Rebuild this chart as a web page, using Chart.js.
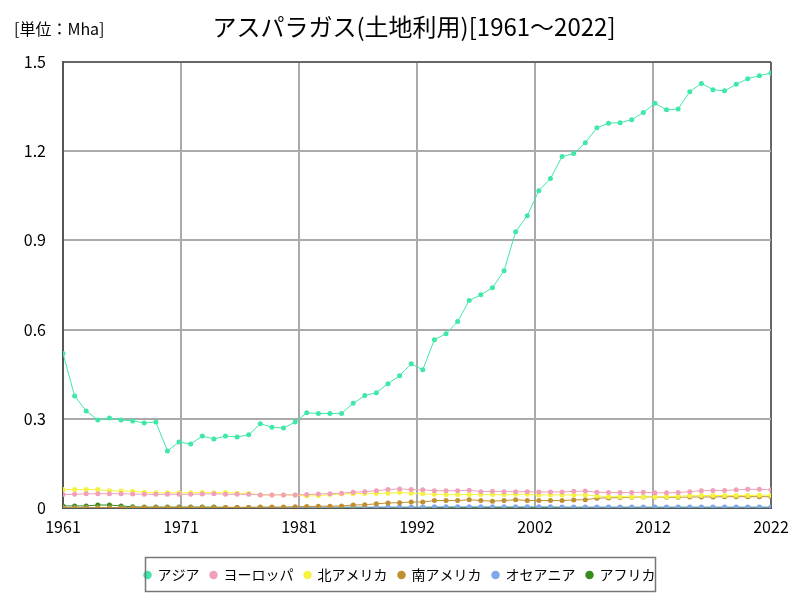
<!DOCTYPE html>
<html>
<head>
<meta charset="utf-8">
<script src="https://cdn.jsdelivr.net/npm/chart.js@4"></script>
<style>
  body { margin: 0; background: #fff; }
  #wrap { width: 800px; height: 600px; }
</style>
</head>
<body>
<div id="wrap"><canvas id="lineChart" width="800" height="600"></canvas></div>
<script>
	// years 1961..2022
	var years = [];
	for (var y = 1961; y <= 2022; y++) years.push(y);

	var xTickCount = 7;
	var yTicks = [0, 0.3, 0.6, 0.9, 1.2, 1.5];

	var asia = [0.52, 0.377, 0.326, 0.296, 0.303, 0.296, 0.293, 0.286, 0.289, 0.192,
		0.222, 0.215, 0.242, 0.232, 0.242, 0.239, 0.246, 0.283, 0.272, 0.269,
		0.289, 0.32, 0.318, 0.318, 0.318, 0.352, 0.378, 0.388, 0.418, 0.445,
		0.485, 0.465, 0.566, 0.586, 0.627, 0.698, 0.717, 0.741, 0.798, 0.929,
		0.983, 1.067, 1.108, 1.182, 1.192, 1.228, 1.279, 1.294, 1.296, 1.306,
		1.33, 1.361, 1.339, 1.342, 1.4, 1.428, 1.407, 1.403, 1.425, 1.444,
		1.454, 1.463];
	var europe = [0.045, 0.046, 0.048, 0.048, 0.048, 0.048, 0.047, 0.046, 0.046, 0.046,
		0.046, 0.046, 0.047, 0.048, 0.046, 0.046, 0.046, 0.044, 0.044, 0.044,
		0.044, 0.045, 0.047, 0.048, 0.05, 0.053, 0.055, 0.058, 0.062, 0.064,
		0.062, 0.061, 0.058, 0.058, 0.058, 0.06, 0.055, 0.056, 0.055, 0.055,
		0.055, 0.054, 0.054, 0.054, 0.056, 0.057, 0.053, 0.052, 0.052, 0.052,
		0.053, 0.051, 0.051, 0.052, 0.055, 0.058, 0.059, 0.059, 0.061, 0.063,
		0.063, 0.061];
	var northAmerica = [0.062, 0.062, 0.062, 0.062, 0.058, 0.057, 0.056, 0.053, 0.051, 0.051,
		0.051, 0.051, 0.052, 0.051, 0.052, 0.05, 0.049, 0.044, 0.044, 0.044,
		0.044, 0.04, 0.042, 0.045, 0.047, 0.048, 0.049, 0.049, 0.05, 0.052,
		0.05, 0.048, 0.046, 0.045, 0.045, 0.045, 0.045, 0.045, 0.045, 0.046,
		0.046, 0.044, 0.044, 0.044, 0.044, 0.044, 0.04, 0.038, 0.038, 0.037,
		0.037, 0.037, 0.038, 0.039, 0.041, 0.042, 0.042, 0.042, 0.042, 0.042,
		0.043, 0.043];
	var southAmerica = [0.001, 0.001, 0.001, 0.001, 0.001, 0.001, 0.001, 0.002, 0.002, 0.002,
		0.002, 0.002, 0.002, 0.002, 0.002, 0.002, 0.002, 0.003, 0.003, 0.003,
		0.004, 0.005, 0.006, 0.006, 0.007, 0.01, 0.011, 0.014, 0.017, 0.018,
		0.02, 0.02, 0.025, 0.025, 0.025, 0.028, 0.025, 0.023, 0.025, 0.028,
		0.025, 0.025, 0.025, 0.025, 0.027, 0.028, 0.033, 0.034, 0.035, 0.036,
		0.037, 0.037, 0.036, 0.036, 0.037, 0.037, 0.037, 0.038, 0.038, 0.038,
		0.038, 0.038];
	var oceania = [0.001, 0.001, 0.001, 0.001, 0.001, 0.001, 0.001, 0.001, 0.001, 0.001,
		0.001, 0.001, 0.001, 0.001, 0.001, 0.001, 0.001, 0.002, 0.002, 0.002,
		0.002, 0.002, 0.002, 0.002, 0.003, 0.003, 0.003, 0.003, 0.003, 0.003,
		0.003, 0.003, 0.004, 0.004, 0.004, 0.004, 0.004, 0.004, 0.004, 0.004,
		0.004, 0.004, 0.004, 0.003, 0.003, 0.003, 0.003, 0.003, 0.003, 0.003,
		0.003, 0.003, 0.003, 0.003, 0.003, 0.003, 0.003, 0.003, 0.003, 0.003,
		0.003, 0.003];
	var africa = [0.007, 0.007, 0.007, 0.01, 0.01, 0.007, 0.004, 0.003, 0.003, 0.003,
		0.003, 0.003, 0.003, 0.003, 0.002, 0.002, 0.002, 0.002, 0.002, 0.002,
		0.002, 0.002, 0.002, 0.002, 0.002, 0.002, 0.002, 0.002, 0.002, 0.002,
		0.002, 0.002, 0.002, 0.002, 0.002, 0.002, 0.002, 0.002, 0.002, 0.002,
		0.002, 0.002, 0.002, 0.002, 0.002, 0.002, 0.002, 0.002, 0.002, 0.002,
		0.002, 0.002, 0.002, 0.002, 0.002, 0.002, 0.002, 0.002, 0.002, 0.002,
		0.002, 0.002];

	var seriesNames = ["アジア", "ヨーロッパ", "北アメリカ", "南アメリカ", "オセアニア", "アフリカ"];
	var seriesData = [asia, europe, northAmerica, southAmerica, oceania, africa];
	var seriesColors = ["#40e8a8", "#f0a0b8", "#f4f440", "#c09030", "#80a8e8", "#3a8c1a"];

	var FONT = "'Noto Sans CJK JP', 'Noto Sans', sans-serif";
	var titleText = "アスパラガス(土地利用)[1961～2022]";
	var unitText = "[単位：Mha]";

	function toPoints(values) {
		return values.map(function (v, i) { return { x: years[i], y: v }; });
	}

	var datasets = seriesData.map(function (values, i) {
		return {
			label: seriesNames[i],
			data: toPoints(values),
			borderColor: seriesColors[i],
			backgroundColor: seriesColors[i],
			pointBackgroundColor: seriesColors[i],
			pointBorderColor: seriesColors[i],
			borderWidth: 1,
			pointRadius: 2.5,
			pointBorderWidth: 0,
			fill: false,
			tension: 0,
			order: i
		};
	});

	//title, unit label, legend frame
	var extras = {
		id: 'extras',
		afterLayout: function (chart) {
			// shift legend so it sits centered on the canvas
			var lg = chart.legend;
			var shift = 400 - (lg.left + lg.right) / 2;
			lg.left += shift;
			lg.right += shift;
		},
		afterDraw: function (chart) {
			var ctx = chart.ctx;
			ctx.save();
			ctx.fillStyle = "#000";
			ctx.textBaseline = "middle";
			ctx.font = "16px " + FONT;
			ctx.textAlign = "left";
			ctx.fillText(unitText, 14, 29);
			ctx.font = "24px " + FONT;
			ctx.textAlign = "center";
			ctx.fillText(titleText, 414, 27);
			ctx.strokeStyle = "#777";
			ctx.lineWidth = 1.5;
			ctx.strokeRect(145.5, 557.5, 510, 34);
			ctx.restore();
		}
	};

	var myLineChart = new Chart($("lineChart"), {
		type: 'line',
		data: { datasets: datasets },
		plugins: [extras],
		options: {
			responsive: false,
			animation: false,
			layout: { padding: { left: 0, right: 29, top: 62, bottom: 8 } },
			plugins: {
				title: { display: false },
				legend: {
					position: 'bottom',
					labels: {
						usePointStyle: true,
						pointStyle: 'circle',
						boxWidth: 6,
						boxHeight: 6,
						padding: 11,
						color: "#000",
						font: { family: FONT, size: 14 }
					}
				},
				tooltip: { enabled: false }
			},
			scales: {
				x: {
					type: 'linear',
					min: years[0],
					max: years[years.length - 1],
					afterBuildTicks: function (axis) {
						var step = (axis.max - axis.min) / (xTickCount - 1);
						var t = [];
						for (var k = 0; k < xTickCount; k++) t.push({ value: axis.min + k * step });
						axis.ticks = t;
					},
					afterFit: function (axis) { axis.height = 49; },
					ticks: {
						color: "#000",
						maxRotation: 0,
						padding: 9,
						font: { family: FONT, size: 16 },
						callback: function (v) { return String(Math.round(v)); }
					},
					grid: {
						color: function (c) { return c.index === xTickCount - 1 ? "#666" : "#aaa"; },
						lineWidth: 2,
						drawTicks: false
					},
					border: { color: "#555", width: 2 }
				},
				y: {
					min: 0,
					max: 1.5,
					afterBuildTicks: function (axis) {
						axis.ticks = yTicks.map(function (v) { return { value: v }; });
					},
					afterFit: function (axis) { axis.width = 63; },
					ticks: {
						color: "#000",
						padding: 17,
						font: { family: FONT, size: 16 },
						callback: function (v) { return String(v); }
					},
					grid: {
						color: function (c) { return c.index === yTicks.length - 1 ? "#666" : "#aaa"; },
						lineWidth: 2,
						drawTicks: false
					},
					border: { color: "#555", width: 2 }
				}
			}
		}
	});

	function $(id) { return document.getElementById(id); }
</script>
</body>
</html>
